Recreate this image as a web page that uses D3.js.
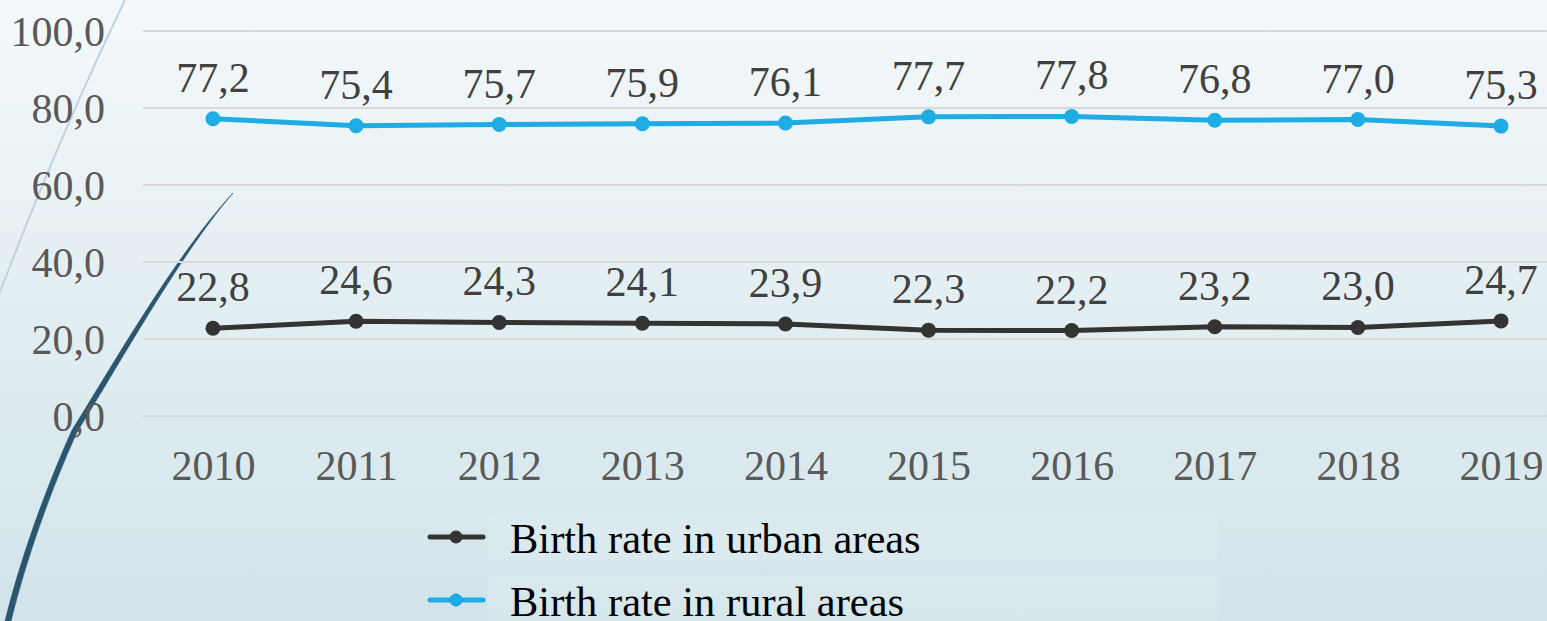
<!DOCTYPE html>
<html>
<head>
<meta charset="utf-8">
<script src="https://cdn.jsdelivr.net/npm/d3@7/dist/d3.min.js"></script>
<style>
html,body{margin:0;padding:0;overflow:hidden;}
svg{display:block;}
</style>
</head>
<body>
<svg id="chart" width="1547" height="621"></svg>
<script>
const years = ["2010","2011","2012","2013","2014","2015","2016","2017","2018","2019"];
const urban = [22.8,24.6,24.3,24.1,23.9,22.3,22.2,23.2,23.0,24.7];
const rural = [77.2,75.4,75.7,75.9,76.1,77.7,77.8,76.8,77.0,75.3];
const yTicks = [0,20,40,60,80,100];
const seriesNames = ["Birth rate in urban areas","Birth rate in rural areas"];
const seriesColors = ["#333333","#1fabe3"];

const W = 1547, H = 621;
const svg = d3.select("#chart");
const FONT = "'Liberation Serif','Times New Roman',serif";

// background gradient
const defs = svg.append("defs");
const g = defs.append("linearGradient").attr("id","bg").attr("x1",0).attr("y1",0).attr("x2",0).attr("y2",1);
g.append("stop").attr("offset","0%").attr("stop-color","#f4f8fa");
g.append("stop").attr("offset","100%").attr("stop-color","#d1e4ea");
svg.append("rect").attr("width",W).attr("height",H).attr("fill","url(#bg)");

// decorative lines
svg.append("path")
  .attr("d","M125,0 Q60,135 0,292")
  .attr("fill","none").attr("stroke","#c3d2da").attr("stroke-width",2);
svg.append("path")
  .attr("d","M233,193 C175,255 110,370 72,430 C45,490 20,560 5,621 L11,621 C26,560 50,492 77,432 C115,372 178,257 233,193 Z")
  .attr("fill","#2a5670").attr("stroke","#2a5670").attr("stroke-width",0.6);

const x = d3.scalePoint().domain(years).range([213,1501]);
const y = d3.scaleLinear().domain([0,100]).range([416,31]);

// gridlines
svg.append("g").selectAll("line").data(yTicks).join("line")
  .attr("x1",143).attr("x2",W)
  .attr("y1",d=>y(d)).attr("y2",d=>y(d))
  .attr("stroke","#d9d9d9").attr("stroke-width",2);

// y axis
const yAxis = d3.axisLeft(y).tickValues(yTicks).tickSize(0).tickPadding(0)
  .tickFormat(d=>d3.format(".1f")(d).replace(".",","));
const ya = svg.append("g").attr("transform","translate(105,0)").call(yAxis);
ya.select(".domain").remove();
ya.selectAll("text").attr("font-family",FONT).attr("font-size",42).attr("fill","#595959").attr("dy","0.35em");

// x axis
const xAxis = d3.axisBottom(x).tickSize(0).tickPadding(0);
const xa = svg.append("g").attr("transform","translate(0,451)").call(xAxis);
xa.select(".domain").remove();
xa.selectAll("text").attr("font-family",FONT).attr("font-size",42).attr("fill","#595959").attr("dy","0.7em");

// series
const data = [urban, rural];
const line = d3.line().x((d,i)=>x(years[i])).y(d=>y(d));
data.forEach((vals,k)=>{
  const gg = svg.append("g");
  gg.append("path").datum(vals).attr("d",line).attr("fill","none")
    .attr("stroke",seriesColors[k]).attr("stroke-width",5).attr("stroke-linejoin","round");
  gg.selectAll("circle").data(vals).join("circle")
    .attr("cx",(d,i)=>x(years[i])).attr("cy",d=>y(d)).attr("r",7.5).attr("fill",seriesColors[k]);
  gg.selectAll("text").data(vals).join("text")
    .attr("x",(d,i)=>x(years[i])).attr("y",d=>y(d)-27)
    .attr("text-anchor","middle").attr("font-family",FONT).attr("font-size",42).attr("fill","#404040")
    .text(d=>d3.format(".1f")(d).replace(".",","));
});

// legend
const legY = [537,600];
seriesNames.forEach((name,k)=>{
  const lg = svg.append("g");
  lg.append("rect").attr("x",488).attr("y",legY[k]-24).attr("width",730).attr("height",47)
    .attr("rx",3).attr("fill","#ffffff").attr("fill-opacity",0.12);
  lg.append("line").attr("x1",430).attr("x2",483).attr("y1",legY[k]).attr("y2",legY[k])
    .attr("stroke",seriesColors[k]).attr("stroke-width",5).attr("stroke-linecap","round");
  lg.append("circle").attr("cx",456).attr("cy",legY[k]).attr("r",6.5).attr("fill",seriesColors[k]);
  lg.append("text").attr("x",510).attr("y",legY[k]+16).attr("font-family",FONT).attr("font-size",42.5)
    .attr("fill","#000000").text(name);
});
</script>
</body>
</html>
